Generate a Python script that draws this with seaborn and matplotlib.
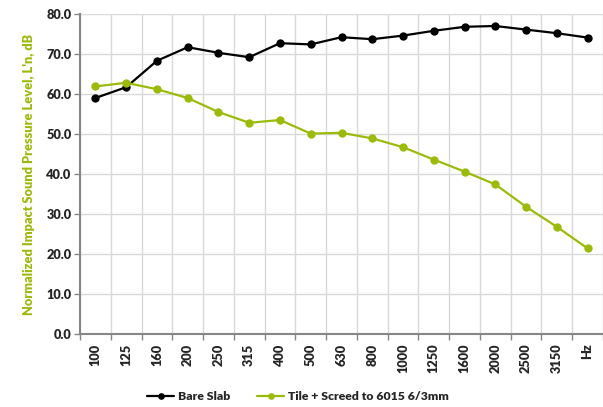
import numpy as np
import pandas as pd
import matplotlib
matplotlib.use("Agg")
import matplotlib.pyplot as plt
import seaborn as sns

categories = ["100", "125", "160", "200", "250", "315", "400", "500", "630", "800",
              "1000", "1250", "1600", "2000", "2500", "3150", "Hz"]
bare_slab = [59.0, 61.7, 68.3, 71.7, 70.3, 69.2, 72.7, 72.4, 74.2, 73.7,
             74.6, 75.8, 76.8, 77.0, 76.1, 75.2, 74.1]
tile_screed = [61.9, 62.8, 61.2, 59.0, 55.5, 52.8, 53.5, 50.1, 50.3, 48.9,
               46.7, 43.6, 40.6, 37.4, 31.8, 26.8, 21.4]
series_names = ["Bare Slab", "Tile + Screed to 6015 6/3mm"]
y_ticks = [0, 10, 20, 30, 40, 50, 60, 70, 80]

GREEN = "#9BBB0A"

sns.set_theme(style="white")
plt.rcParams['font.family'] = ['Lato', 'DejaVu Sans']

pos = np.arange(len(categories))
df = pd.DataFrame({
    "pos": np.concatenate([pos, pos]),
    "value": bare_slab + tile_screed,
    "series": [series_names[0]] * len(categories) + [series_names[1]] * len(categories),
})

fig = plt.figure(figsize=(6.03, 4.07), dpi=100)
ax = fig.add_axes([80 / 603, 1 - 334 / 407, 523 / 603, 320 / 407])

sns.lineplot(data=df, x="pos", y="value", hue="series", hue_order=series_names,
             palette={series_names[0]: "black", series_names[1]: GREEN},
             marker="o", markersize=6, markeredgewidth=0, linewidth=1.6,
             sort=False, ax=ax, zorder=3)

ax.set_xlim(-0.5, len(categories) - 0.5)
ax.set_ylim(0, 80)
ax.set_yticks(y_ticks)
ax.set_yticklabels([f"{v:.1f}" for v in y_ticks], fontsize=9.2, fontweight="heavy")

# boundaries as major ticks (gridlines), labels as minor ticks at centers
ax.set_xticks(np.arange(len(categories) + 1) - 0.5)
ax.set_xticklabels([])
ax.set_xticks(pos, minor=True)
ax.set_xticklabels(categories, minor=True, rotation=90, fontsize=9.2, fontweight="heavy")
ax.tick_params(axis="x", which="minor", length=0, pad=7)
ax.tick_params(axis="x", which="major", length=4, width=1, color="#868686", direction="out")
ax.tick_params(axis="y", which="major", length=4, width=1, color="#868686", direction="out", pad=2)
ax.xaxis.set_ticks_position("bottom")
ax.yaxis.set_ticks_position("left")

ax.grid(True, which="major", color="#D9D9D9", linewidth=1)
ax.set_axisbelow(True)
for s in ["top", "right"]:
    ax.spines[s].set_visible(False)
for s in ["left", "bottom"]:
    ax.spines[s].set_color("#868686")
    ax.spines[s].set_linewidth(1.5)

ax.set_xlabel("")
ax.set_ylabel("Normalized Impact Sound Pressure Level, L'n, dB", color=GREEN,
              fontsize=9.2, fontweight="heavy", labelpad=8)

leg = ax.legend(loc="center", bbox_to_anchor=(298 / 603, 10 / 407),
                bbox_transform=fig.transFigure, ncol=2, frameon=False,
                fontsize=8.8, handlelength=2.2, columnspacing=2.2, handletextpad=0.3,
                markerscale=0.8)
for t in leg.get_texts():
    t.set_fontweight("heavy")

fig.savefig("out.png", dpi=100)
